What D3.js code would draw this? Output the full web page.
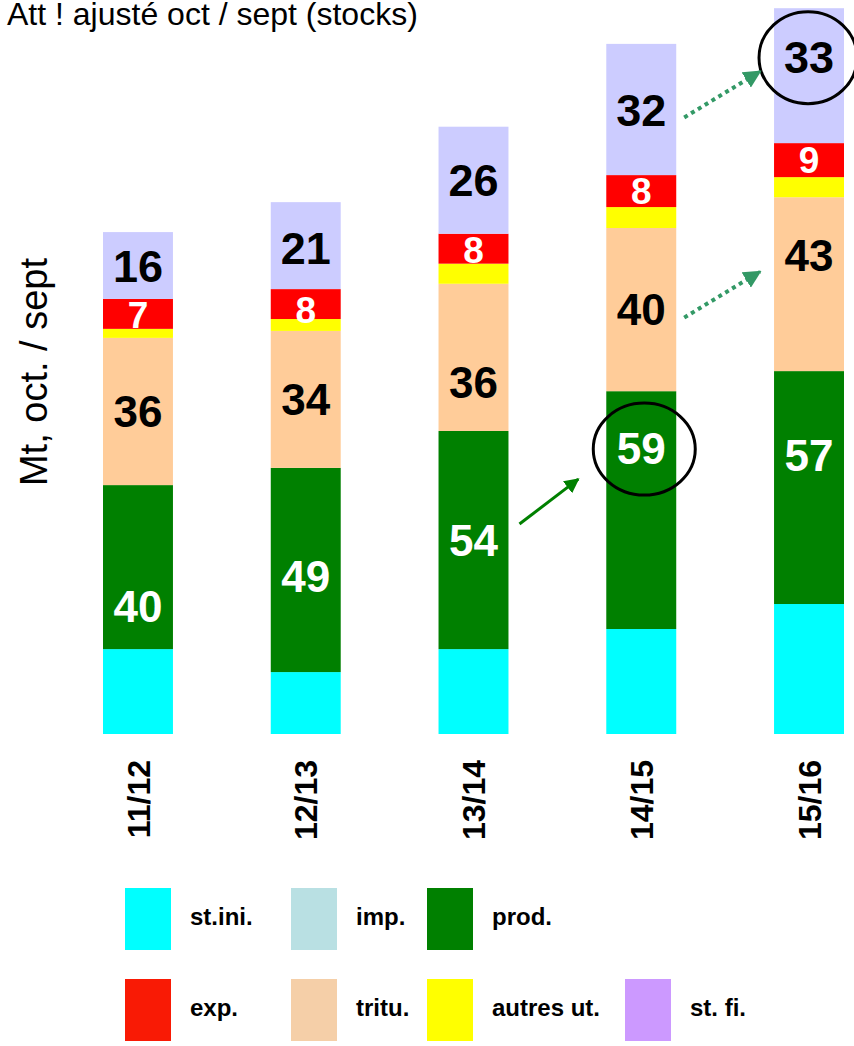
<!DOCTYPE html>
<html>
<head>
<meta charset="utf-8">
<script src="https://cdn.jsdelivr.net/npm/d3@7"></script>
<style>
  body { margin: 0; background: #fff; }
  text { font-family: Arial, "Liberation Sans", sans-serif; }
</style>
</head>
<body>
<div id="chart"></div>
<script>
// campaigns
var campaigns = ["11/12", "12/13", "13/14", "14/15", "15/16"];

// Mt, bottom to top
var stIni  = [20.7, 15.1, 20.7, 25.6, 31.7];
var imp    = [0, 0, 0, 0, 0];
var prod   = [40.0, 49.8, 53.2, 58.0, 56.8];
var tritu  = [35.9, 33.4, 35.9, 39.8, 42.4];
var autres = [2.2, 2.9, 4.9, 5.1, 4.9];
var exp    = [7.3, 7.3, 7.3, 7.8, 8.3];
var stFi   = [16.3, 21.2, 26.1, 32.0, 32.9];

// numbers printed on the bars
var lblProd  = ["40", "49", "54", "59", "57"];
var lblTritu = ["36", "34", "36", "40", "43"];
var lblExp   = ["7", "8", "8", "8", "9"];
var lblStFi  = ["16", "21", "26", "32", "33"];

var seriesKeys   = ["stIni", "imp", "prod", "tritu", "autres", "exp", "stFi"];
var legendNames  = ["st.ini.", "imp.", "prod.", "exp.", "tritu.", "autres ut.", "st. fi."];

var barColor = {stIni: "#00ffff", imp: "#b9e0e3", prod: "#008000", tritu: "#ffcc99",
                autres: "#ffff00", exp: "#ff0000", stFi: "#ccccff"};
var legendColor = ["#00ffff", "#b9e0e3", "#008000", "#f91a05", "#f5cfa8", "#ffff00", "#cc99ff"];

var W = 854, H = 1046;

var table = campaigns.map(function(c, i) {
  return {camp: c, stIni: stIni[i], imp: imp[i], prod: prod[i], tritu: tritu[i],
          autres: autres[i], exp: exp[i], stFi: stFi[i]};
});

var stack = d3.stack().keys(seriesKeys)(table);

var x = d3.scaleBand()
    .domain(campaigns)
    .range([103, 844])
    .paddingInner(0.583)
    .paddingOuter(0);

var y = d3.scaleLinear()
    .domain([0, 179])
    .range([734, 0]);

var svg = d3.select("#chart").append("svg")
    .attr("width", W)
    .attr("height", H);

svg.append("text")
    .attr("x", 7)
    .attr("y", 25)
    .attr("font-size", 32)
    .text("Att ! ajusté oct / sept (stocks)");

svg.append("text")
    .attr("transform", "translate(47,372) rotate(-90)")
    .attr("text-anchor", "middle")
    .attr("font-size", 38)
    .text("Mt, oct. / sept");

svg.append("g")
  .selectAll("g")
  .data(stack)
  .join("g")
    .attr("fill", function(s) { return barColor[s.key]; })
  .selectAll("rect")
  .data(function(s) { return s; })
  .join("rect")
    .attr("x", function(d) { return x(d.data.camp); })
    .attr("y", function(d) { return y(d[1]); })
    .attr("width", x.bandwidth())
    .attr("height", function(d) { return y(d[0]) - y(d[1]); });

// category labels, rotated
var xAxis = d3.axisBottom(x).tickSize(0).tickPadding(0);
var gx = svg.append("g")
    .attr("transform", "translate(0,760)")
    .call(xAxis);
gx.select(".domain").remove();
gx.selectAll("text")
    .attr("transform", "rotate(-90)")
    .attr("x", 0)
    .attr("y", 0)
    .attr("dy", "0.36em")
    .attr("text-anchor", "end")
    .attr("font-size", 32)
    .attr("font-weight", "bold")
    .attr("fill", "#000")
    .attr("font-family", "Arial, 'Liberation Sans', sans-serif");

// segment labels
var labelSets = [
  {key: "prod",  labels: lblProd,  color: "#fff", size: 44, shift: [39, 6, 0, -62, -32]},
  {key: "tritu", labels: lblTritu, color: "#000", size: 44, shift: [0, 0, 25, 0, -29]},
  {key: "exp",   labels: lblExp,   color: "#fff", size: 37, shift: [1, 6, 1, 0, 0]},
  {key: "stFi",  labels: lblStFi,  color: "#000", size: 45, shift: [0, 2, 0, 0, -19]}
];

var labelPos = {};
labelSets.forEach(function(ls) {
  var s = stack[seriesKeys.indexOf(ls.key)];
  labelPos[ls.key] = [];
  svg.append("g")
    .selectAll("text")
    .data(s)
    .join("text")
      .attr("x", function(d) { return x(d.data.camp) + x.bandwidth() / 2; })
      .attr("y", function(d, i) {
        var cy = (y(d[0]) + y(d[1])) / 2 + ls.shift[i];
        labelPos[ls.key][i] = cy;
        return cy;
      })
      .attr("dy", "0.36em")
      .attr("text-anchor", "middle")
      .attr("font-size", ls.size)
      .attr("font-weight", "bold")
      .attr("fill", ls.color)
      .text(function(d, i) { return ls.labels[i]; });
});

// annotations: circles round 59 and 33, arrows between campaigns
var cx4 = x("14/15") + x.bandwidth() / 2;
var cx5 = x("15/16") + x.bandwidth() / 2;

svg.append("ellipse")
    .attr("cx", cx4 + 3)
    .attr("cy", labelPos.prod[3] + 1)
    .attr("rx", 51)
    .attr("ry", 46)
    .attr("fill", "none")
    .attr("stroke", "#000")
    .attr("stroke-width", 3);

svg.append("ellipse")
    .attr("cx", cx5 - 1)
    .attr("cy", labelPos.stFi[4] + 1)
    .attr("rx", 49)
    .attr("ry", 46)
    .attr("fill", "none")
    .attr("stroke", "#000")
    .attr("stroke-width", 3);

var defs = svg.append("defs");
defs.append("marker")
    .attr("id", "headSolid")
    .attr("viewBox", "0 0 10 10")
    .attr("refX", 9).attr("refY", 5)
    .attr("markerWidth", 5).attr("markerHeight", 5)
    .attr("markerUnits", "strokeWidth")
    .attr("orient", "auto")
  .append("path")
    .attr("d", "M0,0 L10,5 L0,10 z")
    .attr("fill", "#008000");
defs.append("marker")
    .attr("id", "headDot")
    .attr("viewBox", "0 0 10 10")
    .attr("refX", 9).attr("refY", 5)
    .attr("markerWidth", 4.5).attr("markerHeight", 4.5)
    .attr("markerUnits", "strokeWidth")
    .attr("orient", "auto")
  .append("path")
    .attr("d", "M0,0 L10,5 L0,10 z")
    .attr("fill", "#339966");

var b3r = x("13/14") + x.bandwidth();
var b4r = x("14/15") + x.bandwidth();

svg.append("line")
    .attr("x1", b3r + 11).attr("y1", labelPos.prod[2] - 16)
    .attr("x2", x("14/15") - 28).attr("y2", labelPos.prod[3] + 31)
    .attr("stroke", "#008000")
    .attr("stroke-width", 3)
    .attr("marker-end", "url(#headSolid)");

["stFi", "tritu"].forEach(function(k) {
  var yFrom = labelPos[k][3] + 8;
  var yTo = yFrom - 46;
  svg.append("line")
      .attr("x1", b4r + 8).attr("y1", yFrom)
      .attr("x2", x("15/16") - 14).attr("y2", yTo)
      .attr("stroke", "#339966")
      .attr("stroke-width", 4)
      .attr("stroke-dasharray", "4,4")
      .attr("marker-end", "url(#headDot)");
});

// legend
var legCols = [125, 291, 427, 625];
var legRows = [888, 979];
var legendItems = legendNames.map(function(n, i) {
  var row = i < 3 ? 0 : 1;
  var col = i < 3 ? i : i - 3;
  return {name: n, color: legendColor[i], x: legCols[col], y: legRows[row]};
});

var lg = svg.append("g")
  .selectAll("g")
  .data(legendItems)
  .join("g")
    .attr("transform", function(d) { return "translate(" + d.x + "," + d.y + ")"; });

lg.append("rect")
    .attr("width", 46)
    .attr("height", 62)
    .attr("fill", function(d) { return d.color; });

lg.append("text")
    .attr("x", 65)
    .attr("y", 37)
    .attr("font-size", 24)
    .attr("font-weight", "bold")
    .text(function(d) { return d.name; });
</script>
</body>
</html>
